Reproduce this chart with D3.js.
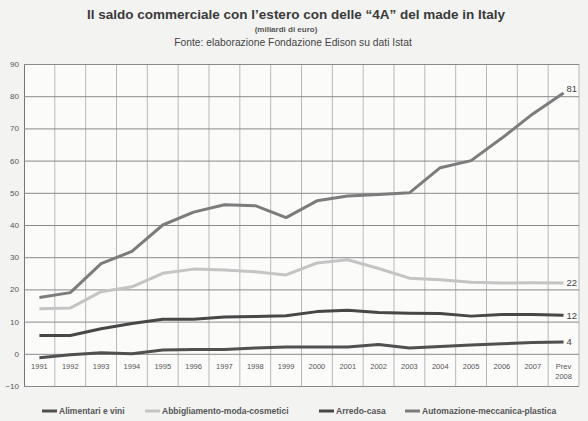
<!DOCTYPE html>
<html>
<head>
<meta charset="utf-8">
<script src="https://cdn.jsdelivr.net/npm/d3@7"></script>
<style>
  body { margin: 0; background: #f3f3f2; }
  svg { display: block; font-family: "Liberation Sans", Arial, sans-serif; }
</style>
</head>
<body>
<div id="chart"></div>
<script>
const years = ["1991", "1992", "1993", "1994", "1995", "1996", "1997", "1998", "1999",
  "2000", "2001", "2002", "2003", "2004", "2005", "2006", "2007", "Prev 2008"];

const alimentari = [-1.2, -0.3, 0.3, 0.0, 1.2, 1.3, 1.3, 1.8, 2.1, 2.1, 2.1, 2.9, 1.8, 2.3, 2.7, 3.1, 3.5, 3.7];
const abbigliamento = [14.0, 14.2, 19.3, 20.8, 25.0, 26.3, 26.0, 25.5, 24.5, 28.2, 29.2, 26.5, 23.5, 23.0, 22.2, 22.0, 22.1, 22.0];
const arredo = [5.7, 5.7, 7.8, 9.4, 10.7, 10.7, 11.4, 11.6, 11.8, 13.1, 13.5, 12.8, 12.6, 12.5, 11.7, 12.2, 12.2, 12.0];
const automazione = [17.5, 19.0, 28.0, 31.8, 40.0, 44.0, 46.3, 46.0, 42.3, 47.5, 49.0, 49.5, 50.0, 57.8, 60.0, 67.0, 74.5, 81.0];

const seriesNames = ["Alimentari e vini", "Abbigliamento-moda-cosmetici", "Arredo-casa", "Automazione-meccanica-plastica"];
const endLabels = ["4", "22", "12", "81"];
const yTicks = [-10, 0, 10, 20, 30, 40, 50, 60, 70, 80, 90];

const series = [
  { name: seriesNames[0], values: alimentari, color: "#505050", label: endLabels[0] },
  { name: seriesNames[1], values: abbigliamento, color: "#c4c4c4", label: endLabels[1] },
  { name: seriesNames[2], values: arredo, color: "#474747", label: endLabels[2] },
  { name: seriesNames[3], values: automazione, color: "#7c7c7c", label: endLabels[3] }
];

const W = 588, H = 421;
const plot = { left: 24, right: 579, top: 64, bottom: 386 };

const svg = d3.select("#chart").append("svg")
  .attr("width", W)
  .attr("height", H);

// titles
svg.append("text")
  .attr("x", 296).attr("y", 19)
  .attr("text-anchor", "middle")
  .style("font-size", "13.5px").style("font-weight", "bold").style("fill", "#3a3a3a")
  .text("Il saldo commerciale con l\u2019estero con delle \u201C4A\u201D del made in Italy");

svg.append("text")
  .attr("x", 286).attr("y", 32)
  .attr("text-anchor", "middle")
  .style("font-size", "8px").style("font-weight", "bold").style("fill", "#555")
  .text("(miliardi di euro)");

svg.append("text")
  .attr("x", 293).attr("y", 46)
  .attr("text-anchor", "middle")
  .style("font-size", "10.3px").style("fill", "#444")
  .text("Fonte: elaborazione Fondazione Edison su dati Istat");

const x = d3.scaleBand()
  .domain(years)
  .range([plot.left, plot.right]);

const y = d3.scaleLinear()
  .domain([-10, 90])
  .range([plot.bottom, plot.top]);

svg.append("rect")
  .attr("x", plot.left).attr("y", plot.top)
  .attr("width", plot.right - plot.left).attr("height", plot.bottom - plot.top)
  .attr("fill", "#fbfbfa");

// vertical gridlines at band edges
svg.append("g")
  .selectAll("line")
  .data(years.slice(1).map(d => x(d)).concat([plot.right]))
  .join("line")
  .attr("x1", d => d).attr("x2", d => d)
  .attr("y1", plot.top).attr("y2", plot.bottom)
  .attr("stroke", "#b8b8b8").attr("stroke-width", 1);

// horizontal gridlines + y labels
const yAxis = svg.append("g")
  .attr("transform", `translate(${plot.left},0)`)
  .call(d3.axisLeft(y).tickValues(yTicks).tickSize(-(plot.right - plot.left)).tickPadding(5));
yAxis.select(".domain").attr("stroke", "#777");
yAxis.selectAll(".tick line").attr("stroke", "#8a8a8a").attr("stroke-width", 1);
yAxis.selectAll(".tick text")
  .style("font-size", "8px").style("fill", "#555")
  .style("font-family", "Liberation Sans, Arial, sans-serif");

// x labels inside the plot, under the zero line
const xLabels = svg.append("g");
years.forEach(d => {
  const parts = d.split(" ");
  const t = xLabels.append("text")
    .attr("x", x(d) + x.bandwidth() / 2)
    .attr("y", y(0) + 15)
    .attr("text-anchor", "middle")
    .style("font-size", "7.5px").style("fill", "#555");
  parts.forEach((p, i) => {
    t.append("tspan")
      .attr("x", x(d) + x.bandwidth() / 2)
      .attr("dy", i === 0 ? 0 : 10)
      .text(p);
  });
});

// lines
const line = d3.line()
  .x((d, i) => x(years[i]) + x.bandwidth() / 2)
  .y(d => y(d));

svg.append("g")
  .selectAll("path")
  .data(series)
  .join("path")
  .attr("d", d => line(d.values))
  .attr("fill", "none")
  .attr("stroke", d => d.color)
  .attr("stroke-width", 3)
  .attr("stroke-linejoin", "round");

// end labels
const last = years[years.length - 1];
svg.append("g")
  .selectAll("text")
  .data(series)
  .join("text")
  .attr("x", x(last) + x.bandwidth() / 2 + 3)
  .attr("y", d => y(d.values[d.values.length - 1]) + (d.label === "81" ? -1 : 3.5))
  .style("font-size", "9.5px").style("fill", "#444")
  .text(d => d.label);

// legend
const legendX = [42, 145, 319, 405];
const legend = svg.append("g").attr("transform", "translate(0,411)");
series.forEach((s, i) => {
  const g = legend.append("g").attr("transform", `translate(${legendX[i]},0)`);
  g.append("line")
    .attr("x1", 0).attr("x2", 15).attr("y1", 0).attr("y2", 0)
    .attr("stroke", s.color).attr("stroke-width", 3);
  g.append("text")
    .attr("x", 17).attr("y", 3)
    .style("font-size", "8.5px").style("font-weight", "bold").style("fill", "#555")
    .text(s.name);
});
</script>
</body>
</html>
